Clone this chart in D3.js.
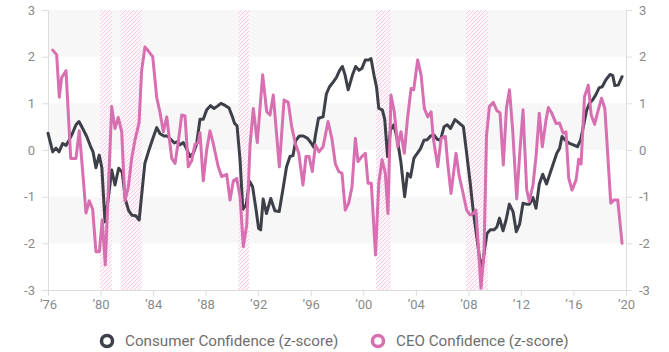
<!DOCTYPE html>
<html>
<head>
<meta charset="utf-8">
<script src="https://cdn.jsdelivr.net/npm/d3@7/dist/d3.min.js"></script>
<style>
  html, body { margin: 0; padding: 0; background: #fff; }
  svg { display: block; font-family: Roboto, "Noto Sans", sans-serif; }
</style>
</head>
<body>
<svg id="chart" width="669" height="352"></svg>
<script>
// ---- data ----
const xTicks = [1976, 1980, 1984, 1988, 1992, 1996, 2000, 2004, 2008, 2012, 2016, 2020];
const xTickLabels = ["\u201976", "\u201980", "\u201984", "\u201988", "\u201992", "\u201996", "\u201900", "\u201904", "\u201908", "\u201912", "\u201916", "\u201920"];
const yTicks = [-3, -2, -1, 0, 1, 2, 3];
const yTickLabels = ["-3", "-2", "-1", "0", "1", "2", "3"];
const seriesNames = ["Consumer Confidence (z-score)", "CEO Confidence (z-score)"];

const recessionStart = [1979.96, 1981.53, 1990.49, 2000.97, 2007.82];
const recessionEnd   = [1980.85, 1983.13, 1991.32, 2002.09, 2009.47];

const consumerDates = [
  1976.00, 1976.36, 1976.61, 1976.84, 1977.12, 1977.37, 1977.55, 1977.88, 1978.13, 1978.36,
  1978.64, 1978.95, 1979.22, 1979.43, 1979.65, 1979.90, 1980.10, 1980.34, 1980.59, 1980.85,
  1981.10, 1981.38, 1981.65, 1981.90, 1982.14, 1982.40, 1982.68, 1982.94, 1983.37, 1983.63,
  1983.96, 1984.28, 1984.53, 1984.83, 1985.08, 1985.34, 1985.62, 1985.86, 1986.05, 1986.30,
  1986.56, 1986.81, 1987.08, 1987.32, 1987.57, 1987.82, 1988.08, 1988.37, 1988.64, 1988.90,
  1989.17, 1989.51, 1989.78, 1990.05, 1990.20, 1990.39, 1990.62, 1990.83, 1991.09, 1991.34,
  1991.57, 1991.85, 1992.03, 1992.19, 1992.38, 1992.63, 1992.96, 1993.27, 1993.60, 1993.91,
  1994.16, 1994.42, 1994.65, 1994.86, 1995.13, 1995.44, 1995.76, 1996.06, 1996.23, 1996.36,
  1996.59, 1996.94, 1997.19, 1997.42, 1997.72, 1997.95, 1998.19, 1998.41, 1998.61, 1998.85,
  1999.17, 1999.42, 1999.68, 1999.90, 2000.15, 2000.41, 2000.59, 2000.82, 2001.01, 2001.18,
  2001.45, 2001.63, 2001.85, 2002.07, 2002.33, 2002.61, 2002.86, 2003.15, 2003.37, 2003.60,
  2003.85, 2004.11, 2004.36, 2004.62, 2004.87, 2005.12, 2005.39, 2005.63, 2005.88, 2006.15,
  2006.39, 2006.64, 2006.98, 2007.33, 2007.62, 2007.84, 2008.13, 2008.38, 2008.64, 2008.85,
  2009.06, 2009.23, 2009.42, 2009.67, 2009.95, 2010.17, 2010.37, 2010.64, 2010.87, 2011.12,
  2011.40, 2011.65, 2011.90, 2012.16, 2012.41, 2012.66, 2012.92, 2013.15, 2013.40, 2013.66,
  2013.95, 2014.22, 2014.47, 2014.73, 2014.94, 2015.13, 2015.38, 2015.70, 2015.99, 2016.30,
  2016.54, 2016.75, 2017.01, 2017.22, 2017.45, 2017.70, 2017.95, 2018.20, 2018.46, 2018.79,
  2018.99, 2019.15, 2019.41, 2019.70
];
const consumerValues = [
  0.36, -0.04, 0.04, -0.04, 0.14, 0.10, 0.18, 0.37, 0.54, 0.61,
  0.46, 0.29, 0.09, -0.04, -0.38, -0.11, -0.38, -1.54, -1.03, -0.43,
  -0.75, -0.39, -0.48, -1.07, -1.30, -1.40, -1.41, -1.50, -0.29, -0.05,
  0.23, 0.48, 0.35, 0.30, 0.30, 0.23, 0.15, 0.18, 0.11, 0.16,
  0.02, -0.14, -0.06, 0.14, 0.66, 0.66, 0.86, 0.95, 0.89, 0.94,
  1.00, 0.95, 0.90, 0.70, 0.57, 0.52, -0.21, -1.27, -1.17, -0.67,
  -0.78, -1.30, -1.68, -1.71, -1.05, -1.36, -1.04, -1.30, -1.32, -0.80,
  -0.36, -0.14, -0.12, 0.20, 0.30, 0.30, 0.25, 0.14, 0.06, 0.32,
  0.68, 0.71, 1.20, 1.35, 1.46, 1.55, 1.70, 1.79, 1.61, 1.29,
  1.60, 1.79, 1.71, 1.75, 1.93, 1.93, 1.96, 1.60, 1.35, 0.89,
  0.86, 0.66, -0.14, 0.43, 0.54, 0.20, -0.25, -1.00, -0.50, -0.58,
  -0.18, -0.07, 0.03, 0.21, 0.22, 0.30, 0.32, 0.23, 0.21, 0.50,
  0.54, 0.46, 0.65, 0.57, 0.50, 0.00, -0.68, -1.33, -1.86, -2.32,
  -2.52, -2.14, -1.79, -1.71, -1.71, -1.65, -1.46, -1.73, -1.50, -1.16,
  -1.32, -1.75, -1.59, -1.14, -1.16, -1.16, -1.02, -1.25, -0.73, -0.52,
  -0.73, -0.50, -0.29, -0.07, 0.03, 0.29, 0.21, 0.14, 0.11, 0.07,
  0.21, 0.50, 0.86, 1.00, 1.07, 1.18, 1.33, 1.36, 1.50, 1.62,
  1.60, 1.38, 1.39, 1.57
];

const ceoDates = [
  1976.36, 1976.66, 1976.86, 1977.04, 1977.37, 1977.73, 1978.13, 1978.38, 1978.64, 1978.89,
  1979.14, 1979.40, 1979.65, 1979.91, 1980.13, 1980.36, 1980.85, 1981.10, 1981.35, 1981.61,
  1981.86, 1982.11, 1982.37, 1982.62, 1982.93, 1983.13, 1983.38, 1983.64, 1983.97, 1984.28,
  1984.53, 1984.78, 1985.04, 1985.42, 1985.67, 1985.92, 1986.18, 1986.43, 1986.68, 1986.94,
  1987.19, 1987.44, 1987.57, 1987.82, 1988.08, 1988.33, 1988.58, 1988.96, 1989.22, 1989.60,
  1989.86, 1990.11, 1990.37, 1990.62, 1990.87, 1991.13, 1991.38, 1991.63, 1991.93, 1992.34,
  1992.65, 1992.90, 1993.15, 1993.61, 1993.97, 1994.29, 1994.55, 1994.83, 1995.09, 1995.41,
  1995.64, 1995.87, 1996.12, 1996.36, 1996.63, 1996.94, 1997.32, 1997.62, 1997.87, 1998.13,
  1998.38, 1998.63, 1998.89, 1999.14, 1999.40, 1999.60, 1999.90, 2000.16, 2000.36, 2000.61,
  2000.93, 2001.18, 2001.43, 2001.68, 2001.88, 2002.11, 2002.36, 2002.62, 2002.87, 2003.12,
  2003.38, 2003.64, 2003.84, 2004.14, 2004.40, 2004.65, 2004.91, 2005.16, 2005.33, 2005.67,
  2005.92, 2006.25, 2006.43, 2006.68, 2007.06, 2007.31, 2007.57, 2007.87, 2008.13, 2008.38,
  2008.58, 2008.96, 2009.19, 2009.38, 2009.60, 2009.90, 2010.18, 2010.41, 2010.66, 2010.90,
  2011.13, 2011.38, 2011.68, 2011.93, 2012.16, 2012.44, 2012.64, 2012.92, 2013.15, 2013.40,
  2013.63, 2013.91, 2014.09, 2014.33, 2014.67, 2014.94, 2015.21, 2015.43, 2015.64, 2015.89,
  2016.20, 2016.40, 2016.58, 2016.84, 2017.13, 2017.35, 2017.61, 2017.89, 2018.14, 2018.39,
  2018.84, 2019.07, 2019.37, 2019.70
];
const ceoValues = [
  2.14, 2.04, 1.13, 1.55, 1.70, -0.18, -0.18, 0.41, -0.46, -1.35,
  -1.09, -1.27, -2.18, -2.18, -1.50, -2.46, 0.93, 0.46, 0.70, 0.39,
  -1.09, -0.80, -0.18, 0.21, 0.58, 1.70, 2.21, 2.12, 2.00, 1.12,
  0.80, 0.39, 0.71, -0.18, -0.29, 0.18, 0.75, 0.73, -0.36, -0.23,
  0.12, 0.16, 0.37, -0.66, 0.00, 0.41, 0.14, -0.36, -0.57, -0.52,
  -1.07, -0.66, -0.61, -1.00, -2.07, -1.60, 0.10, 0.89, 0.16, 1.61,
  0.82, 0.75, 1.18, -0.36, 1.07, 1.02, 0.50, 0.14, -0.07, -0.75,
  -0.14, -0.14, -0.46, 0.11, -0.04, 0.07, 0.61, 0.23, -0.29, -0.46,
  -0.50, -1.29, -1.14, -0.79, 0.25, -0.25, -0.14, -0.07, -0.71, -0.71,
  -2.25, -0.71, -0.21, -0.50, -1.36, 1.18, 0.82, 0.07, 0.39, -0.07,
  0.71, 1.32, 1.29, 1.93, 1.61, 0.89, 0.71, 0.82, 0.25, -0.36,
  0.25, 0.29, -0.29, -0.93, -0.07, -0.57, -0.89, -1.29, -1.39, -1.36,
  -1.29, -2.96, -2.20, 0.30, 0.93, 1.02, 0.84, 0.80, -0.32, 0.90,
  1.29, 0.40, -1.05, 0.00, 0.86, -0.85, -1.10, -0.75, -0.14, 0.79,
  0.07, 0.64, 0.91, 0.80, 0.57, 0.58, 0.36, 0.39, -0.60, -0.86,
  -0.64, -0.20, -0.30, 1.14, 1.39, 0.75, 0.55, 0.86, 1.11, 0.89,
  -1.14, -1.07, -1.07, -2.00
];

// ---- chart ----
const padL = 48, padR = 626, padT = 10, padB = 290;
const svg = d3.select("#chart");

const x = d3.scaleLinear().domain([1976, 2020]).range([padL, padR]);
const y = d3.scaleLinear().domain([-3, 3]).range([padB, padT]);

const colors = ["#3e4049", "#d76fb1"];
const axisColor = "#dcdcdc";
const textColor = "#8a8a8a";

// alternating bands
const bandLows = [2, 0, -2];
svg.append("g").selectAll("rect").data(bandLows).join("rect")
  .attr("x", padL).attr("width", padR - padL)
  .attr("y", d => y(d + 1)).attr("height", d => y(d) - y(d + 1))
  .attr("fill", "#f7f7f7");

// hatch pattern
const defs = svg.append("defs");
const pat = defs.append("pattern").attr("id", "hatch")
  .attr("patternUnits", "userSpaceOnUse").attr("width", 4).attr("height", 4);
pat.append("rect").attr("width", 4).attr("height", 4).attr("fill", "#fdf6fa");
pat.append("path").attr("d", "M-1,1 l2,-2 M0,4 l4,-4 M3,5 l2,-2")
  .attr("stroke", "#f4c9e1").attr("stroke-width", 1);

svg.append("g").selectAll("rect").data(recessionStart.map((s, i) => [s, recessionEnd[i]])).join("rect")
  .attr("x", d => x(d[0])).attr("width", d => x(d[1]) - x(d[0]))
  .attr("y", padT).attr("height", padB - padT)
  .attr("fill", "url(#hatch)");

// axes
function styleAxis(g) {
  g.select(".domain").attr("stroke", axisColor);
  g.selectAll(".tick line").attr("stroke", axisColor);
  g.selectAll(".tick text").attr("fill", textColor).style("font-size", "13px")
    .style("font-family", "Roboto, sans-serif");
}
const yLeft = d3.axisLeft(y).tickValues(yTicks).tickSize(6).tickPadding(7)
  .tickFormat((d, i) => yTickLabels[i]).tickSizeOuter(0);
svg.append("g").attr("transform", `translate(${padL},0)`).call(yLeft).call(styleAxis);

const yRight = d3.axisRight(y).tickValues(yTicks).tickSize(6).tickPadding(7)
  .tickFormat((d, i) => yTickLabels[i]).tickSizeOuter(0);
svg.append("g").attr("transform", `translate(${padR},0)`).call(yRight).call(styleAxis);

const xAxis = d3.axisBottom(x).tickValues(xTicks).tickSize(6).tickPadding(4)
  .tickFormat((d, i) => xTickLabels[i]).tickSizeOuter(0);
svg.append("g").attr("transform", `translate(0,${padB})`).call(xAxis).call(styleAxis);

// lines
const line = d3.line().x(d => x(d[0])).y(d => y(d[1]));
const consumer = consumerDates.map((d, i) => [d, consumerValues[i]]);
const ceo = ceoDates.map((d, i) => [d, ceoValues[i]]);
[consumer, ceo].forEach((s, i) => {
  svg.append("path").datum(s).attr("d", line)
    .attr("fill", "none").attr("stroke", colors[i]).attr("stroke-width", 3)
    .attr("stroke-linejoin", "round").attr("stroke-linecap", "round");
});

// legend
const legendX = [107, 378];
const lg = svg.append("g");
seriesNames.forEach((name, i) => {
  lg.append("circle").attr("cx", legendX[i]).attr("cy", 341).attr("r", 5.5)
    .attr("fill", "#fff").attr("stroke", colors[i]).attr("stroke-width", 3.5);
  lg.append("text").attr("x", legendX[i] + 18).attr("y", 341).attr("dy", "0.36em")
    .attr("fill", "#6e6e6e").style("font-size", "15.2px").text(name);
});
</script>
</body>
</html>
